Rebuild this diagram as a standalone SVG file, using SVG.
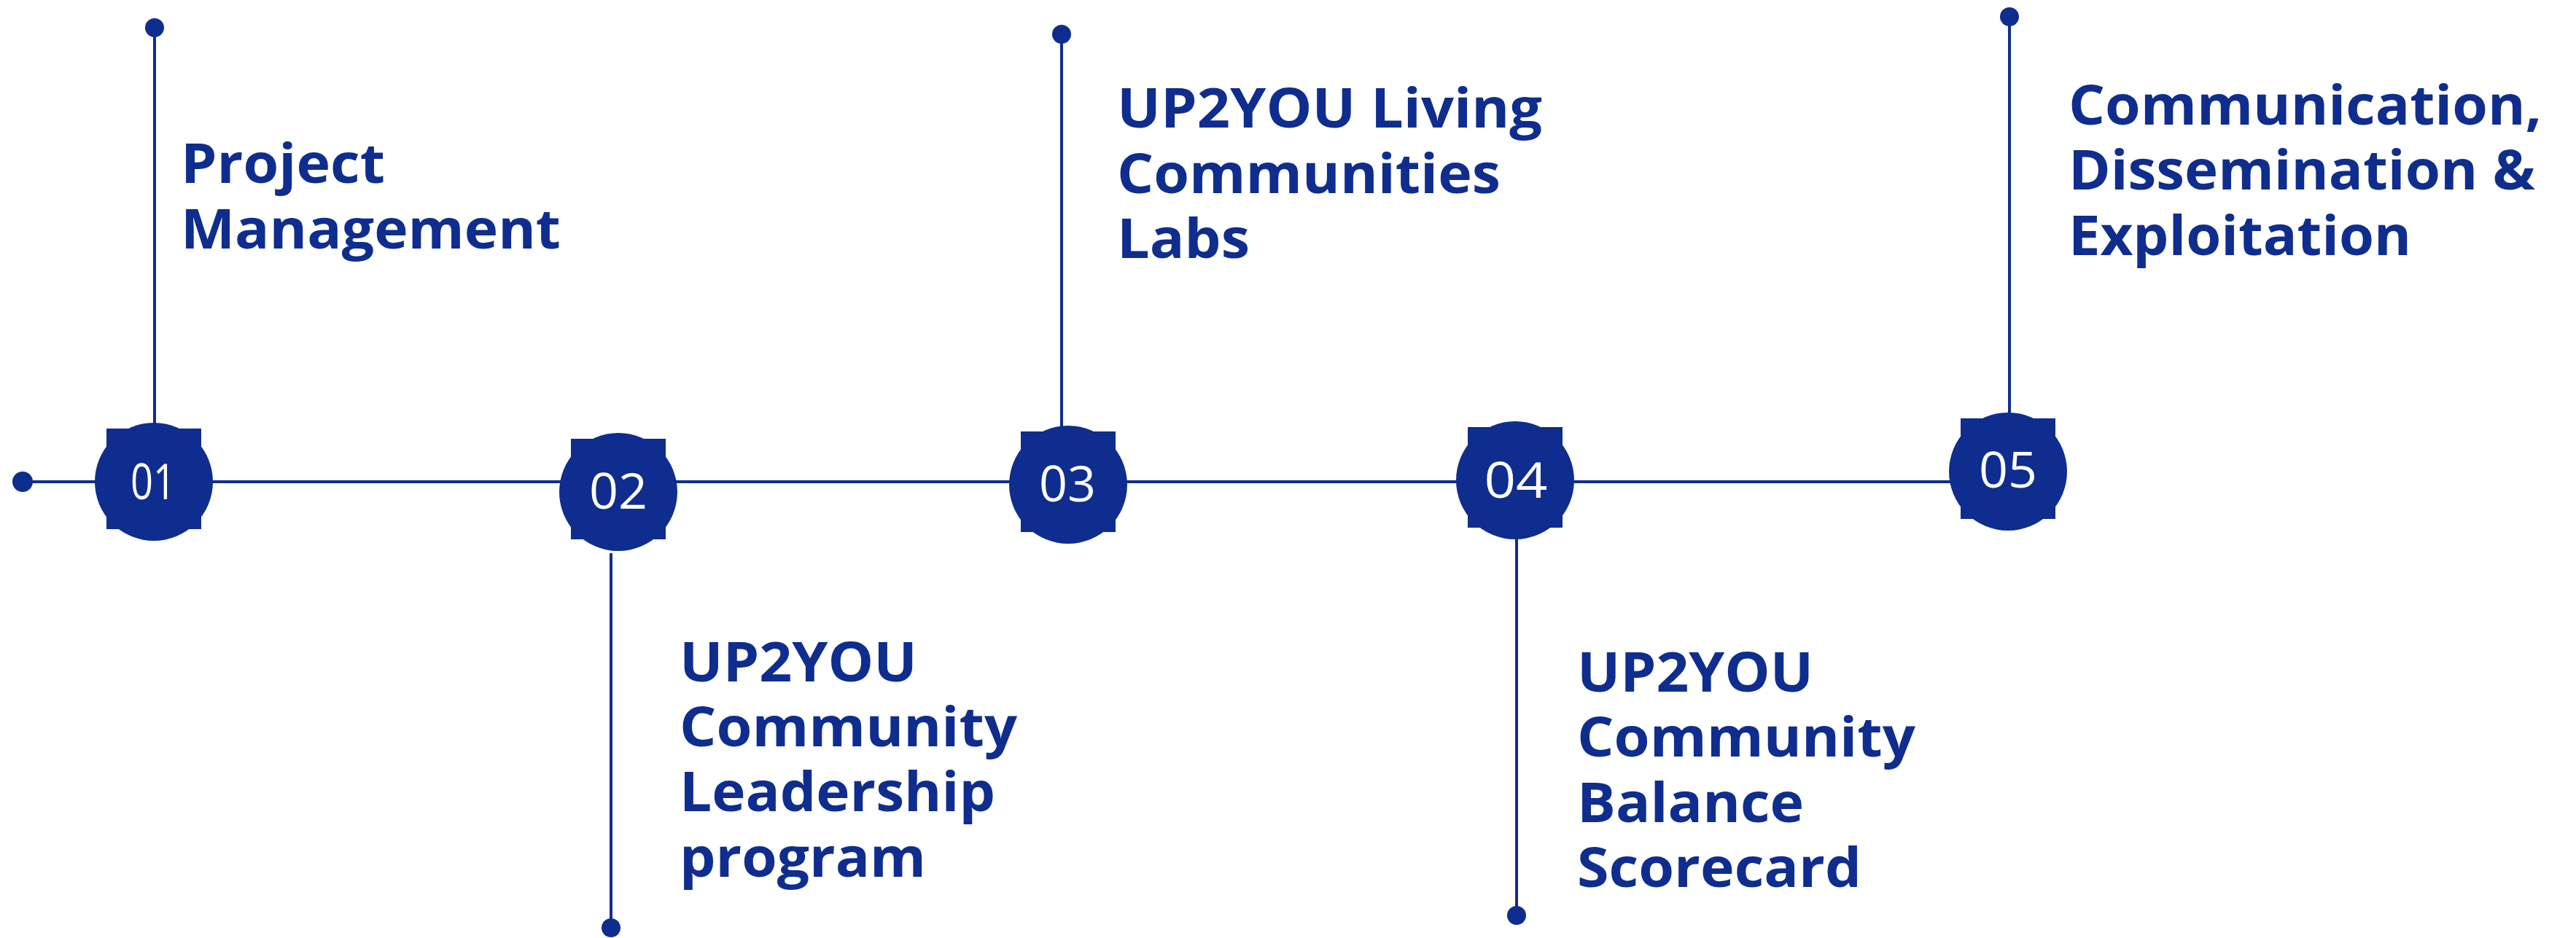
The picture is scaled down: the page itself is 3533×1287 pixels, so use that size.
<svg xmlns="http://www.w3.org/2000/svg" width="3533" height="1287" viewBox="0 0 3533 1287">
<style>
.ln{stroke:#0F2D8E;stroke-width:4;fill:none}
.dot{fill:#0F2D8E}
.bg{fill:#0F2D8E}
.num{font-family:"Open Sans","Liberation Sans",sans-serif;font-weight:400;font-size:67px;fill:#FFFFFF;text-anchor:middle}
.ttl{font-family:"Open Sans","Liberation Sans",sans-serif;font-weight:700;font-size:75px;fill:#0F2D8E}
</style>
<rect width="3533" height="1287" fill="#FFFFFF"/>
<g id="connectors">
<line class="ln" x1="31" y1="661" x2="2680" y2="661"/>
<circle class="dot" cx="31" cy="661" r="14"/>
<line class="ln" x1="212" y1="38" x2="212" y2="585"/>
<circle class="dot" cx="212" cy="38" r="13"/>
<line class="ln" x1="838" y1="759" x2="838" y2="1273"/>
<circle class="dot" cx="838" cy="1273" r="13"/>
<line class="ln" x1="1456" y1="47" x2="1456" y2="590"/>
<circle class="dot" cx="1456" cy="47" r="13"/>
<line class="ln" x1="2080" y1="735" x2="2080" y2="1256"/>
<circle class="dot" cx="2080" cy="1256" r="13"/>
<line class="ln" x1="2756" y1="23" x2="2756" y2="570"/>
<circle class="dot" cx="2756" cy="23" r="13"/>
</g>
<g id="node01">
<rect class="bg" x="146" y="588" width="130" height="138"/>
<circle class="bg" cx="211" cy="661" r="81"/>
<text class="num" x="210" y="685" textLength="62" lengthAdjust="spacingAndGlyphs">01</text>
<text class="ttl"><tspan x="248" y="251" textLength="280" lengthAdjust="spacingAndGlyphs">Project</tspan><tspan x="248" y="341" textLength="521" lengthAdjust="spacingAndGlyphs">Management</tspan></text>
</g>
<g id="node02">
<rect class="bg" x="783" y="602" width="130" height="138"/>
<circle class="bg" cx="848" cy="675" r="81"/>
<text class="num" x="848" y="698" textLength="80" lengthAdjust="spacingAndGlyphs">02</text>
<text class="ttl"><tspan x="932" y="935" textLength="326" lengthAdjust="spacingAndGlyphs">UP2YOU</tspan><tspan x="932" y="1024" textLength="463" lengthAdjust="spacingAndGlyphs">Community</tspan><tspan x="932" y="1113" textLength="433" lengthAdjust="spacingAndGlyphs">Leadership</tspan><tspan x="932" y="1203" textLength="338" lengthAdjust="spacingAndGlyphs">program</tspan></text>
</g>
<g id="node03">
<rect class="bg" x="1400" y="592" width="130" height="138"/>
<circle class="bg" cx="1465" cy="665" r="81"/>
<text class="num" x="1464" y="688" textLength="78" lengthAdjust="spacingAndGlyphs">03</text>
<text class="ttl"><tspan x="1532" y="175" textLength="583" lengthAdjust="spacingAndGlyphs">UP2YOU Living</tspan><tspan x="1532" y="265" textLength="526" lengthAdjust="spacingAndGlyphs">Communities</tspan><tspan x="1532" y="354" textLength="182" lengthAdjust="spacingAndGlyphs">Labs</tspan></text>
</g>
<g id="node04">
<rect class="bg" x="2013" y="586" width="130" height="138"/>
<circle class="bg" cx="2078" cy="659" r="81"/>
<text class="num" x="2079" y="683" textLength="87" lengthAdjust="spacingAndGlyphs">04</text>
<text class="ttl"><tspan x="2163" y="949" textLength="324" lengthAdjust="spacingAndGlyphs">UP2YOU</tspan><tspan x="2163" y="1038" textLength="464" lengthAdjust="spacingAndGlyphs">Community</tspan><tspan x="2163" y="1128" textLength="311" lengthAdjust="spacingAndGlyphs">Balance</tspan><tspan x="2163" y="1217" textLength="390" lengthAdjust="spacingAndGlyphs">Scorecard</tspan></text>
</g>
<g id="node05">
<rect class="bg" x="2689" y="574" width="130" height="138"/>
<circle class="bg" cx="2754" cy="647" r="81"/>
<text class="num" x="2754" y="669" textLength="80" lengthAdjust="spacingAndGlyphs">05</text>
<text class="ttl"><tspan x="2837" y="171" textLength="649" lengthAdjust="spacingAndGlyphs">Communication,</tspan><tspan x="2837" y="260" textLength="640" lengthAdjust="spacingAndGlyphs">Dissemination &amp;</tspan><tspan x="2837" y="350" textLength="470" lengthAdjust="spacingAndGlyphs">Exploitation</tspan></text>
</g>
</svg>
